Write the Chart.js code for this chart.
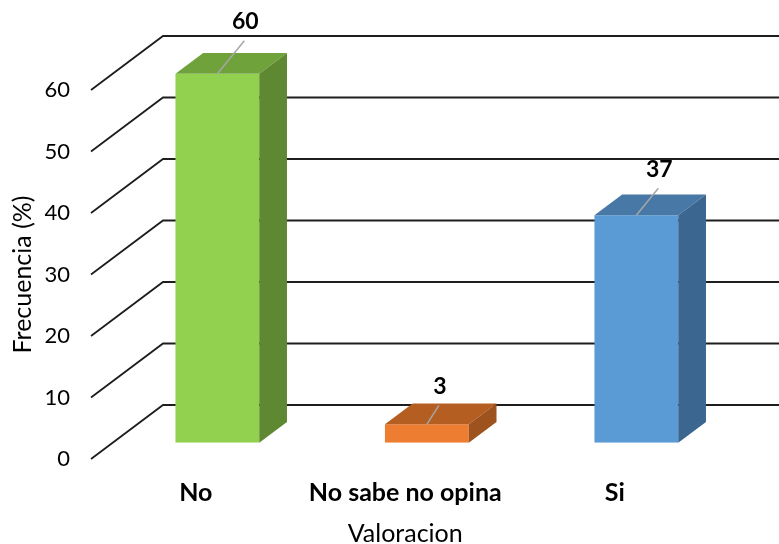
<!DOCTYPE html>
<html>
<head>
<meta charset="utf-8">
<title>Valoracion</title>
<script src="https://cdn.jsdelivr.net/npm/chart.js@4.4.1/dist/chart.umd.min.js"></script>
<style>
  html, body { margin: 0; padding: 0; background: #fff; }
  canvas { display: block; }
</style>
</head>
<body>
<canvas id="valoracionChart" width="779" height="544"></canvas>
<script>
const categories = ["No", "No sabe no opina", "Si"];
const frecuencia = [60, 3, 37];
const yTicks = [0, 10, 20, 30, 40, 50, 60];

const frontColors = ["#92d050", "#ed7d31", "#5b9bd5"];
const topColors = ["#70a23c", "#b55e22", "#4778a6"];
const sideColors = ["#5f8833", "#9e521d", "#3b6690"];
// the labels were dragged around a bit in the original, so nudge them per bar
const labelNudge = [[28, -52], [13, -38], [23, -46]];

// floor depth of the fake 3d box and where the bars sit in it
const DEPTH_X = 72, DEPTH_Y = -54;
const BAR_FRONT = 0.3, BAR_BACK = 0.685;

const box3d = {
  id: 'box3d',
  beforeDatasetsDraw(chart) {
    const { ctx, chartArea, scales: { y } } = chart;
    ctx.save();
    ctx.strokeStyle = '#1e1e1e';
    ctx.lineWidth = 1.8;
    yTicks.forEach(v => {
      const py = y.getPixelForValue(v);
      ctx.beginPath();
      ctx.moveTo(chartArea.left, py);
      ctx.lineTo(chartArea.left + DEPTH_X, py + DEPTH_Y);
      ctx.lineTo(chart.width, py + DEPTH_Y);
      ctx.stroke();
    });
    ctx.restore();
  },
  beforeDatasetDraw(chart) {
    chart.ctx.save();
    chart.ctx.translate(DEPTH_X * BAR_FRONT, DEPTH_Y * BAR_FRONT);
  },
  afterDatasetDraw(chart, args) {
    const ctx = chart.ctx;
    const dx = DEPTH_X * (BAR_BACK - BAR_FRONT);
    const dy = DEPTH_Y * (BAR_BACK - BAR_FRONT);
    args.meta.data.forEach((bar, i) => {
      const { x, y, base, width } = bar.getProps(['x', 'y', 'base', 'width'], true);
      const l = x - width / 2, r = x + width / 2;

      // top face
      ctx.fillStyle = topColors[i];
      ctx.beginPath();
      ctx.moveTo(l, y);
      ctx.lineTo(r, y);
      ctx.lineTo(r + dx, y + dy);
      ctx.lineTo(l + dx, y + dy);
      ctx.closePath();
      ctx.fill();

      // right side
      ctx.fillStyle = sideColors[i];
      ctx.beginPath();
      ctx.moveTo(r, y);
      ctx.lineTo(r + dx, y + dy);
      ctx.lineTo(r + dx, base + dy);
      ctx.lineTo(r, base);
      ctx.closePath();
      ctx.fill();

      // leader line + value
      const lx = x + labelNudge[i][0], ly = y + labelNudge[i][1];
      ctx.strokeStyle = '#a6a6a6';
      ctx.lineWidth = 1.5;
      ctx.beginPath();
      ctx.moveTo(x, y);
      ctx.lineTo(lx - 1, ly + 19);
      ctx.stroke();

      ctx.fillStyle = '#000';
      ctx.font = 'bold 23px Lato';
      ctx.textAlign = 'center';
      ctx.textBaseline = 'middle';
      ctx.fillText(String(frecuencia[i]), lx, ly);
    });
    ctx.restore();
  }
};

new Chart(document.getElementById('valoracionChart'), {
  type: 'bar',
  data: {
    labels: categories,
    datasets: [{
      label: 'Frecuencia',
      data: frecuencia,
      backgroundColor: frontColors,
      borderWidth: 0,
      barPercentage: 0.4,
      categoryPercentage: 1
    }]
  },
  options: {
    responsive: false,
    animation: false,
    devicePixelRatio: 1,
    layout: { padding: { top: 90, right: 59.5, left: 0, bottom: 0 } },
    plugins: {
      legend: { display: false },
      tooltip: { enabled: false }
    },
    scales: {
      x: {
        grid: { display: false, drawTicks: false },
        border: { display: false },
        ticks: { color: '#000', font: { family: 'Lato', size: 25, weight: 'bold' }, padding: 19 },
        title: {
          display: true, text: 'Valoracion', color: '#000',
          font: { family: 'Lato', size: 25 }, padding: { top: 0, bottom: -5 }
        },
        afterFit: s => { s.height = 85; }
      },
      y: {
        min: 0, max: 60,
        grid: { display: false, drawTicks: false },
        border: { display: false },
        ticks: { stepSize: 10, color: '#000', font: { family: 'Lato', size: 22 }, padding: 21 },
        title: {
          display: true, text: 'Frecuencia (%)', color: '#000',
          font: { family: 'Lato', size: 25 }, padding: { top: 7.5, bottom: 0 }
        },
        afterFit: s => { s.width = 91; }
      }
    }
  },
  plugins: [box3d]
});
</script>
</body>
</html>
